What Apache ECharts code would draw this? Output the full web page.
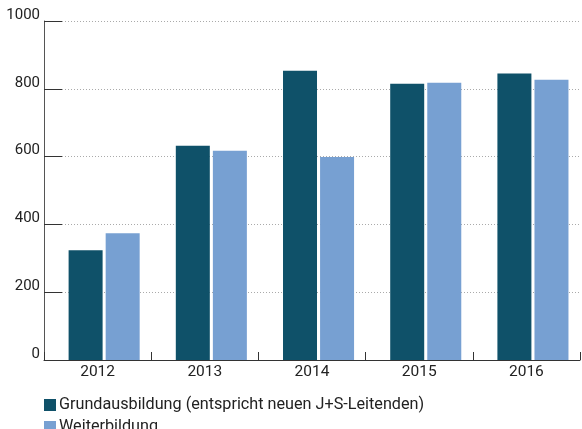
<!DOCTYPE html>
<html>
<head>
<meta charset="utf-8">
<script src="https://cdn.jsdelivr.net/npm/echarts@6/dist/echarts.min.js"></script>
<style>
html,body{margin:0;padding:0;background:#fff;}
#chart{width:582px;height:429px;}
</style>
</head>
<body>
<div id="chart"></div>
<script>
var categories = ['2012', '2013', '2014', '2015', '2016'];
var grundausbildung = [324, 632, 853, 815, 845];
var weiterbildung = [374, 617, 599, 818, 827];
var seriesNames = ['Grundausbildung (entspricht neuen J+S-Leitenden)', 'Weiterbildung'];
var yTicks = [0, 200, 400, 600, 800, 1000];

var FONT = 'Roboto';
function legendCfg(name, top) {
  return {
    data: [name],
    orient: 'horizontal',
    left: 44,
    top: top,
    itemWidth: 12,
    itemHeight: 12,
    icon: 'rect',
    padding: 0,
    textStyle: {fontFamily: FONT, fontSize: 16.2, color: '#222', padding: [0, 0, 0, -2]}
  };
}
var chart = echarts.init(document.getElementById('chart'), null, {renderer: 'canvas'});
chart.setOption({
  animation: false,
  backgroundColor: '#ffffff',
  textStyle: {fontFamily: FONT},
  grid: {left: 44, right: 2, top: 21, bottom: 69, containLabel: false},
  legend: [legendCfg(seriesNames[0], 397), legendCfg(seriesNames[1], 419)],
  xAxis: {
    type: 'category',
    data: categories,
    boundaryGap: true,
    axisLine: {show: true, lineStyle: {color: '#333', width: 1}},
    axisTick: {show: true, inside: true, length: 8, lineStyle: {color: '#333', width: 1}},
    axisLabel: {fontFamily: FONT, fontSize: 15.5, color: '#222', margin: 4},
    splitLine: {show: false}
  },
  yAxis: {
    type: 'value',
    min: yTicks[0],
    max: yTicks[yTicks.length - 1],
    interval: 200,
    axisLine: {show: true, lineStyle: {color: '#555', width: 1}},
    axisTick: {show: true, inside: true, length: 18, lineStyle: {color: '#333', width: 1}},
    axisLabel: {fontFamily: FONT, fontSize: 15, color: '#222', margin: 4, verticalAlign: 'bottom', lineHeight: 12,
      formatter: function (v) { return String(v); }},
    splitLine: {show: true, lineStyle: {color: '#aaa', type: [1, 2], width: 1}}
  },
  series: [
    {name: '_offset', type: 'bar', data: [], barWidth: 12, barGap: '9%', silent: true, itemStyle: {color: 'rgba(0,0,0,0)'}},
    {name: seriesNames[0], type: 'bar', data: grundausbildung, barWidth: 34, barGap: '9%', itemStyle: {color: '#0f5169'}},
    {name: seriesNames[1], type: 'bar', data: weiterbildung, barWidth: 34, barGap: '9%', itemStyle: {color: '#77a0d2'}}
  ]
});
</script>
</body>
</html>
